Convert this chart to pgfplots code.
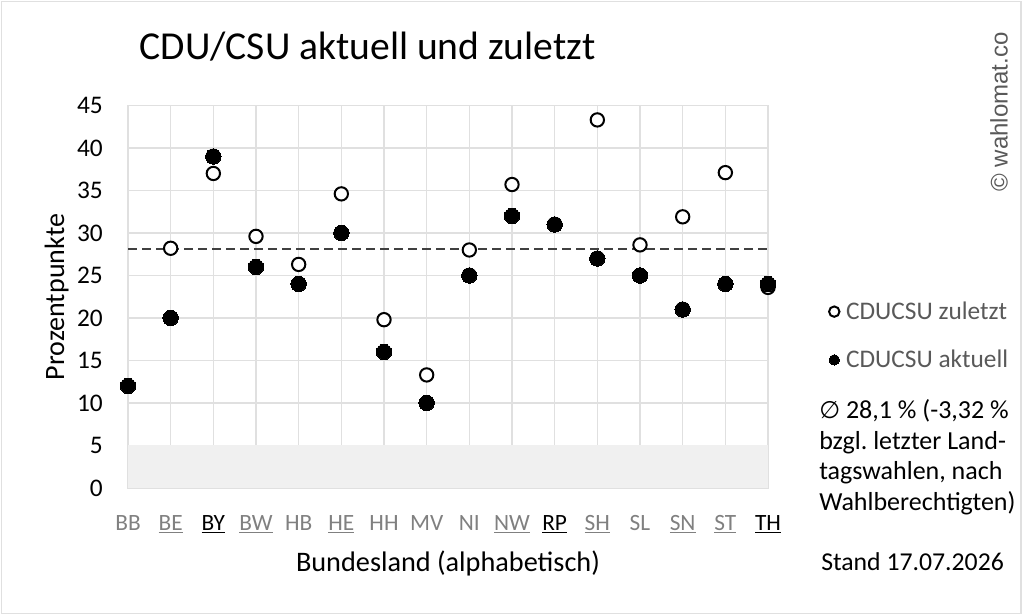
\documentclass[border=0pt]{standalone}
\usepackage{pgfplots}
\pgfplotsset{compat=1.18}
\usepackage{fontspec}
\setmainfont{Carlito}
\newfontfamily\wmfont{Liberation Sans}
\newfontfamily\symfont{DejaVu Sans}
\definecolor{gridc}{HTML}{E0E0E0}
\definecolor{bandc}{HTML}{F0F0F0}
\definecolor{labg}{HTML}{808080}
\definecolor{legc}{HTML}{595959}
\definecolor{dashc}{HTML}{404040}
\newcommand{\g}[1]{\textcolor{labg}{#1}}
\newcommand{\gu}[1]{\textcolor{labg}{\underline{#1}}}
\newcommand{\bu}[1]{\underline{#1}}
\newcommand{\fs}[2]{\fontsize{#1}{#2}\selectfont}
\begin{document}
\begin{tikzpicture}[x=0.75pt,y=0.75pt]
\path[use as bounding box] (0,0) rectangle (1024,616);
\draw[gridc, line width=1.1pt] (1.5,2.5) rectangle (1021,614.5);
\begin{axis}[
  at={(96pt,96pt)}, anchor=south west,
  scale only axis, width=480pt, height=286.9pt,
  xmin=0, xmax=15, ymin=0, ymax=45,
  xtick={0,...,15}, ytick={0,5,...,45},
  xticklabels={\g{BB},\gu{BE},\bu{BY},\gu{BW},\g{HB},\gu{HE},\g{HH},\g{MV},\g{NI},\gu{NW},\bu{RP},\gu{SH},\g{SL},\gu{SN},\gu{ST},\bu{TH}},
  grid=major, grid style={gridc, line width=1.1pt},
  axis line style={gridc, line width=1.1pt},
  major tick length=0pt,
  clip=false,
  /pgf/number format/assume math mode=true,
  yticklabel style={font=\fs{19pt}{22pt}, anchor=east, inner sep=0pt, xshift=-18.75pt, text=black},
  xticklabel style={font=\fs{17.5pt}{20pt}, anchor=base, inner sep=0pt, yshift=-32pt},
  legend style={at={(axis description cs:1.095,0.398)}, anchor=west, draw=none, fill=none,
    inner sep=0pt, row sep=17.5pt, font=\fs{19pt}{22pt}, text=legc,
    /tikz/every odd column/.append style={column sep=3pt}},
  legend cell align=left,
  legend image code/.code={\draw[#1, mark size=3.9pt] plot coordinates {(0pt,0pt)};},
]
\addplot[fill=bandc, draw=none, forget plot] coordinates {(0,5) (15,5)} \closedcycle;
\addplot[dashc, line width=1.5pt, dash pattern=on 6.5pt off 4pt, forget plot] coordinates {(0,28.1) (15,28.1)};
% CDUCSU zuletzt
\addplot[only marks, mark=*, mark size=5.0pt, mark options={draw=black, fill=white, line width=1.5pt}] coordinates {
(1,28.2) (2,37.0) (3,29.6) (4,26.3) (5,34.6) (6,19.8) (7,13.3) (8,28.0) (9,35.7) (11,43.3) (12,28.6) (13,31.9) (14,37.1) (15,23.6)};
% CDUCSU aktuell
\addplot[only marks, mark=*, mark size=5.8pt, mark options={draw=black, fill=black, line width=0pt}] coordinates {
(0,12) (1,20) (2,39) (3,26) (4,24) (5,30) (6,16) (7,10) (8,25) (9,32) (10,31) (11,27) (12,25) (13,21) (14,24) (15,24)};
\legend{CDUCSU zuletzt, CDUCSU aktuell}
\end{axis}
\node[anchor=base west, font=\fs{29.7pt}{34pt}] at (135,556) {CDU/CSU aktuell und zuletzt};
\node[rotate=90, anchor=base, font=\fs{21pt}{25pt}] at (64,319) {Prozentpunkte};
\node[anchor=base, font=\fs{21.2pt}{25pt}] at (448,44.3) {Bundesland (alphabetisch)};
\node[anchor=base west, font=\fs{19.3pt}{23pt}, inner sep=0pt] at (821,45) {Stand 17.07.2026};
\node[anchor=base west, font=\fs{19.5pt}{23pt}, inner sep=0pt] at (819,197) {{\symfont\fs{18pt}{20pt}∅} 28,1 \% (-3,32 \%};
\node[anchor=base west, font=\fs{19.5pt}{23pt}, inner sep=0pt] at (819,166.5) {bzgl.\ letzter Land-};
\node[anchor=base west, font=\fs{19.5pt}{23pt}, inner sep=0pt] at (819,136) {tagswahlen, nach};
\node[anchor=base west, font=\fs{19.5pt}{23pt}, inner sep=0pt] at (819,105.5) {Wahlberechtigten)};
\node[rotate=90, font=\wmfont\fs{18pt}{21pt}, text=legc] at (999,504) {© wahlomat.co};
\end{tikzpicture}
\end{document}
